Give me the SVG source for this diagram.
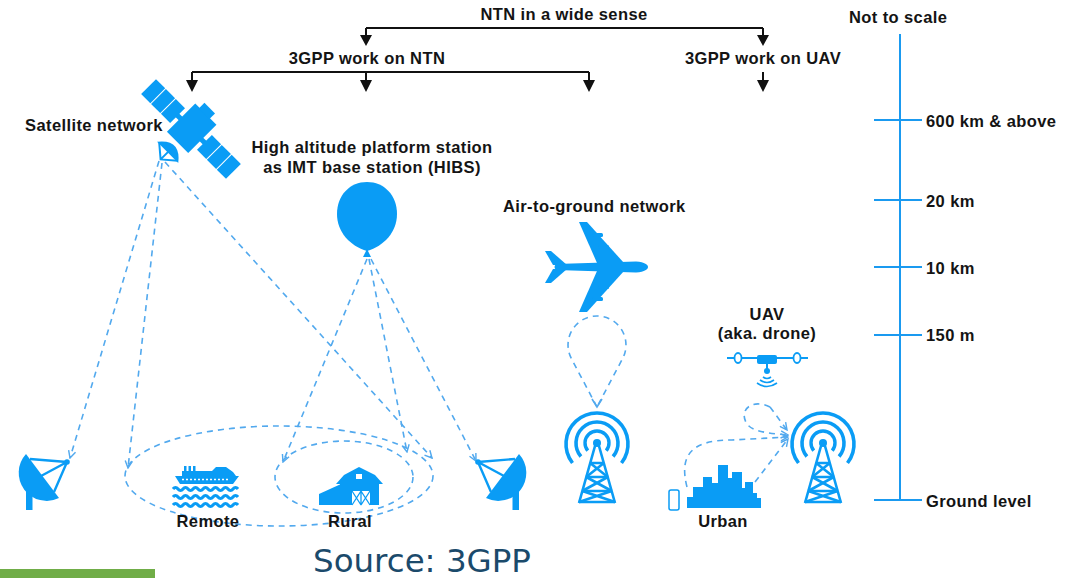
<svg xmlns="http://www.w3.org/2000/svg" width="1075" height="578" viewBox="0 0 1075 578">
  <style>
    .lbl { font-family: "Liberation Sans", Arial, sans-serif; font-weight: bold; font-size: 16.5px; letter-spacing: 0.4px; fill: #141414; }
    .mid { text-anchor: middle; }
    .blue { fill: #0a9cf5; }
    .bstroke { fill: none; stroke: #0a9cf5; }
    .dash { fill: none; stroke: #52a9ee; stroke-width: 1.6; stroke-dasharray: 6 5; }
    .tree { fill: none; stroke: #111; stroke-width: 2; }
    .head { fill: #111; }
    .scale { stroke: #1a9af0; stroke-width: 2; }
  </style>
  <defs>
    <marker id="chev" viewBox="0 0 10 10" refX="9" refY="5" markerWidth="9" markerHeight="9" markerUnits="userSpaceOnUse" orient="auto">
      <path d="M1,1 L9,5 L1,9" fill="none" stroke="#52a9ee" stroke-width="1.6"/>
    </marker>
    <g id="tower">
      <path d="M-24.5,20 A31,31 0 1 1 24.5,20" class="bstroke" stroke-width="3.6"/>
      <path d="M-16.1,13.5 A21,21 0 1 1 16.1,13.5" class="bstroke" stroke-width="3.6"/>
      <path d="M-9.2,7.7 A12,12 0 1 1 9.2,7.7" class="bstroke" stroke-width="3.4"/>
      <circle cx="0" cy="0" r="4" class="blue"/>
      <g class="bstroke" stroke-width="2.6" stroke-linejoin="round">
        <path d="M-2,3 L-18,60 M2,3 L18,60"/>
        <path d="M-6.9,20 H6.9 M-10.8,34 H10.8 M-14.7,48 H14.7 M-18,59 H18"/>
        <path d="M-6.9,20 L10.8,34 M6.9,20 L-10.8,34 M-10.8,34 L14.7,48 M10.8,34 L-14.7,48 M-14.7,48 L18,59 M14.7,48 L-18,59"/>
      </g>
    </g>
    <g id="dish">
      <path d="M26,454 A28,28 0 0 0 59,498 Z" class="blue"/>
      <path d="M30,459 L67,462 M54,492 L67,462 M41,476 L67,462" class="bstroke" stroke-width="2.4"/>
      <circle cx="67" cy="462" r="2.8" class="blue"/>
      <rect x="26" y="484" width="6.5" height="26" class="blue"/>
    </g>
  </defs>

  <!-- hierarchy of work items -->
  <g id="header">
    <text class="lbl mid" x="564" y="20">NTN in a wide sense</text>
    <text class="lbl mid" x="367" y="64">3GPP work on NTN</text>
    <text class="lbl mid" x="763" y="64">3GPP work on UAV</text>
  </g>

  <!-- connectors -->
  <g id="connectors">
    <path class="tree" d="M366,28 H763 M366,28 V37 M763,28 V37"/>
    <path class="head" d="M360,35 L372,35 L366,46 Z M757,35 L769,35 L763,46 Z"/>
    <path class="tree" d="M192,72 H589 M192,72 V81 M366,72 V81 M589,72 V81 M763,72 V81"/>
    <path class="head" d="M186,80 L198,80 L192,92 Z M360,80 L372,80 L366,92 Z M583,80 L595,80 L589,92 Z M757,80 L769,80 L763,92 Z"/>

    <!-- satellite beams -->
    <path class="dash" d="M159,161 L70,458" marker-end="url(#chev)"/>
    <path class="dash" d="M162,163 L128,468" marker-end="url(#chev)"/>
    <path class="dash" d="M165,162 L432,458" marker-end="url(#chev)"/>
    <!-- HIBS beams -->
    <path class="dash" d="M367,259 L283,462" marker-end="url(#chev)"/>
    <path class="dash" d="M369,259 L407,452" marker-end="url(#chev)"/>
    <path class="dash" d="M371,259 L476,461" marker-end="url(#chev)"/>
    <!-- coverage areas -->
    <ellipse class="dash" cx="279" cy="476" rx="154" ry="50"/>
    <ellipse class="dash" cx="344" cy="477" rx="69" ry="36"/>
    <!-- air-to-ground link -->
    <path class="dash" d="M597,407 L571.4,358.6 A29,29 0 1 1 622.6,358.6 L597,407"/>
    <path d="M592,399 L597,407 L602,399" fill="none" stroke="#52a9ee" stroke-width="1.6"/>
    <!-- urban links -->
    <path class="dash" d="M687,487 C678,452 695,440 732,440 L788,437" marker-end="url(#chev)"/>
    <path class="dash" d="M770,407 C752,398 738,410 747,424 C752,431 765,433 788,435" marker-end="url(#chev)"/>
    <path class="dash" d="M770,407 L787,430" marker-end="url(#chev)"/>
    <path class="dash" d="M755,482 L788,439" marker-end="url(#chev)"/>
  </g>

  <!-- satellite -->
  <g id="satellite">
    <g transform="translate(191,129) rotate(45)" class="blue">
      <rect x="-60" y="-10.5" width="13" height="21"/>
      <rect x="-46" y="-10.5" width="13" height="21"/>
      <rect x="-32" y="-10.5" width="13" height="21"/>
      <rect x="-20" y="-2.5" width="6" height="5"/>
      <rect x="-15" y="-21" width="30" height="40"/>
      <rect x="-9" y="-28" width="15" height="8"/>
      <rect x="14" y="-2.5" width="6" height="5"/>
      <rect x="19" y="-10.5" width="13" height="21"/>
      <rect x="33" y="-10.5" width="13" height="21"/>
      <rect x="47" y="-10.5" width="13" height="21"/>
      <path d="M-15,33 Q0,14 15,33 Z"/>
      <path d="M-13,32 L0,43 L13,32 M0,27 L0,43" fill="none" stroke="#0a9cf5" stroke-width="2"/>
    </g>
    <text class="lbl" x="25" y="131">Satellite network</text>
  </g>

  <!-- high altitude platform -->
  <g id="hibs">
    <path class="blue" d="M367,251 C350,246 337,232 337,214 C337,195 350,182 367,182 C384,182 397,195 397,214 C397,232 384,246 367,251 Z"/>
    <path class="blue" d="M363,257 L367,249 L371,257 Z"/>
    <text class="lbl mid" x="372" y="153">High altitude platform station</text>
    <text class="lbl mid" x="372" y="173">as IMT base station (HIBS)</text>
  </g>

  <!-- aircraft -->
  <g id="air-to-ground">
    <g class="blue">
      <path d="M556,264 L636,261.5 C645,262 648,265 648,267 C648,269 645,272 636,272.5 L556,270 Q553,267 556,264 Z"/>
      <path d="M597,263 L579,222 L587,222 L624,263 Z"/>
      <path d="M597,271 L579,312 L587,312 L624,271 Z"/>
      <path d="M553,265 L545,251 L551,251 L567,265 Z"/>
      <path d="M553,269 L545,283 L551,283 L567,269 Z"/>
      <rect x="592" y="233" width="11" height="4" rx="1.5"/>
      <rect x="598" y="245" width="11" height="4" rx="1.5"/>
      <rect x="592" y="297" width="11" height="4" rx="1.5"/>
      <rect x="598" y="285" width="11" height="4" rx="1.5"/>
    </g>
    <text class="lbl" x="503" y="212">Air-to-ground network</text>
  </g>

  <!-- ground base stations -->
  <g id="tower-a2g"><use href="#tower" transform="translate(597,443)"/></g>
  <g id="tower-urban"><use href="#tower" transform="translate(823,443)"/></g>

  <!-- drone -->
  <g id="uav">
    <text class="lbl mid" x="767" y="320">UAV</text>
    <text class="lbl mid" x="767" y="339">(aka. drone)</text>
    <path class="bstroke" stroke-width="2" d="M727,358 H808 M767,363 V369"/>
    <ellipse cx="738" cy="358" rx="3.5" ry="5" fill="#fff" stroke="#0a9cf5" stroke-width="1.8"/>
    <ellipse cx="797" cy="358" rx="3.5" ry="5" fill="#fff" stroke="#0a9cf5" stroke-width="1.8"/>
    <rect x="757" y="355" width="20" height="9" rx="2" class="blue"/>
    <circle cx="767" cy="371" r="3" class="blue"/>
    <path class="bstroke" stroke-width="1.6" d="M763,377 Q767,380 771,377 M760,380 Q767,385 774,380 M757,383 Q767,390 777,383"/>
  </g>

  <!-- ground dishes -->
  <g id="dish-left"><use href="#dish"/></g>
  <g id="dish-right"><use href="#dish" transform="translate(545,0) scale(-1,1)"/></g>

  <!-- remote area: ship at sea -->
  <g id="remote">
    <g class="blue">
      <rect x="184" y="466" width="2.5" height="6"/>
      <rect x="188.5" y="466" width="2.5" height="6"/>
      <rect x="193" y="466" width="2.5" height="6"/>
      <path d="M182,476 L182,471 L212,471 L216,467 L226,467 L233,472 L236,476 Z"/>
      <path d="M175,476 L239,476 L233,484 L180,484 Z"/>
    </g>
    <path d="M182,479.5 H230" stroke="#fff" stroke-width="1.5" stroke-dasharray="2 2"/>
    <g class="bstroke" stroke-width="3.2">
      <path d="M173,489 q2.5,-3 5,0 t5,0 t5,0 t5,0 t5,0 t5,0 t5,0 t5,0 t5,0 t5,0 t5,0 t5,0 t5,0"/>
      <path d="M173,497 q2.5,-3 5,0 t5,0 t5,0 t5,0 t5,0 t5,0 t5,0 t5,0 t5,0 t5,0 t5,0 t5,0 t5,0"/>
      <path d="M173,505 q2.5,-3 5,0 t5,0 t5,0 t5,0 t5,0 t5,0 t5,0 t5,0 t5,0 t5,0 t5,0 t5,0 t5,0"/>
    </g>
    <text class="lbl mid" x="208" y="527">Remote</text>
  </g>

  <!-- rural area: barn -->
  <g id="rural">
    <g class="blue">
      <path d="M319,505 L319,494 L341,484 L341,505 Z"/>
      <path d="M336,484 L344,475 L359,467 L375,475 L383,484 L379,484 L379,505 L340,505 L340,484 Z"/>
    </g>
    <rect x="356" y="474" width="6" height="5" fill="#fff"/>
    <rect x="352" y="491" width="18" height="14" fill="#fff"/>
    <path d="M361,491 V505 M352,491 L361,505 M361,491 L352,505 M361,491 L370,505 M370,491 L361,505" stroke="#0a9cf5" stroke-width="1.3"/>
    <text class="lbl mid" x="350" y="527">Rural</text>
  </g>

  <!-- urban area: skyline and handset -->
  <g id="urban">
    <path class="blue" d="M687,508 L687,497 L693,497 L693,487 L703,487 L703,477 L712,477 L712,483 L718,483 L718,465 L728,465 L728,478 L732,478 L732,472 L742,472 L742,488 L745,488 L745,482 L753,482 L753,493 L757,493 L757,498 L761,498 L761,508 Z"/>
    <rect x="669" y="490" width="10" height="20" rx="2" fill="none" stroke="#0a9cf5" stroke-width="1.5"/>
    <text class="lbl mid" x="723" y="527">Urban</text>
  </g>

  <!-- altitude scale -->
  <g id="scale">
    <text class="lbl" x="849" y="23">Not to scale</text>
    <path class="scale" d="M900,34 V500 M874,120 H922 M874,200 H922 M874,267 H922 M874,335 H922 M874,500 H922"/>
    <text class="lbl" x="926" y="127">600 km &amp; above</text>
    <text class="lbl" x="926" y="207">20 km</text>
    <text class="lbl" x="926" y="274">10 km</text>
    <text class="lbl" x="926" y="341">150 m</text>
    <text class="lbl" x="926" y="507">Ground level</text>
  </g>

  <!-- footer -->
  <g id="footer">
    <rect x="0" y="569" width="155" height="9" fill="#70ad47"/>
    <text x="313" y="572" font-family="'DejaVu Sans', Verdana, sans-serif" font-size="32.5" fill="#1b4a6b">Source: 3GPP</text>
  </g>
</svg>
